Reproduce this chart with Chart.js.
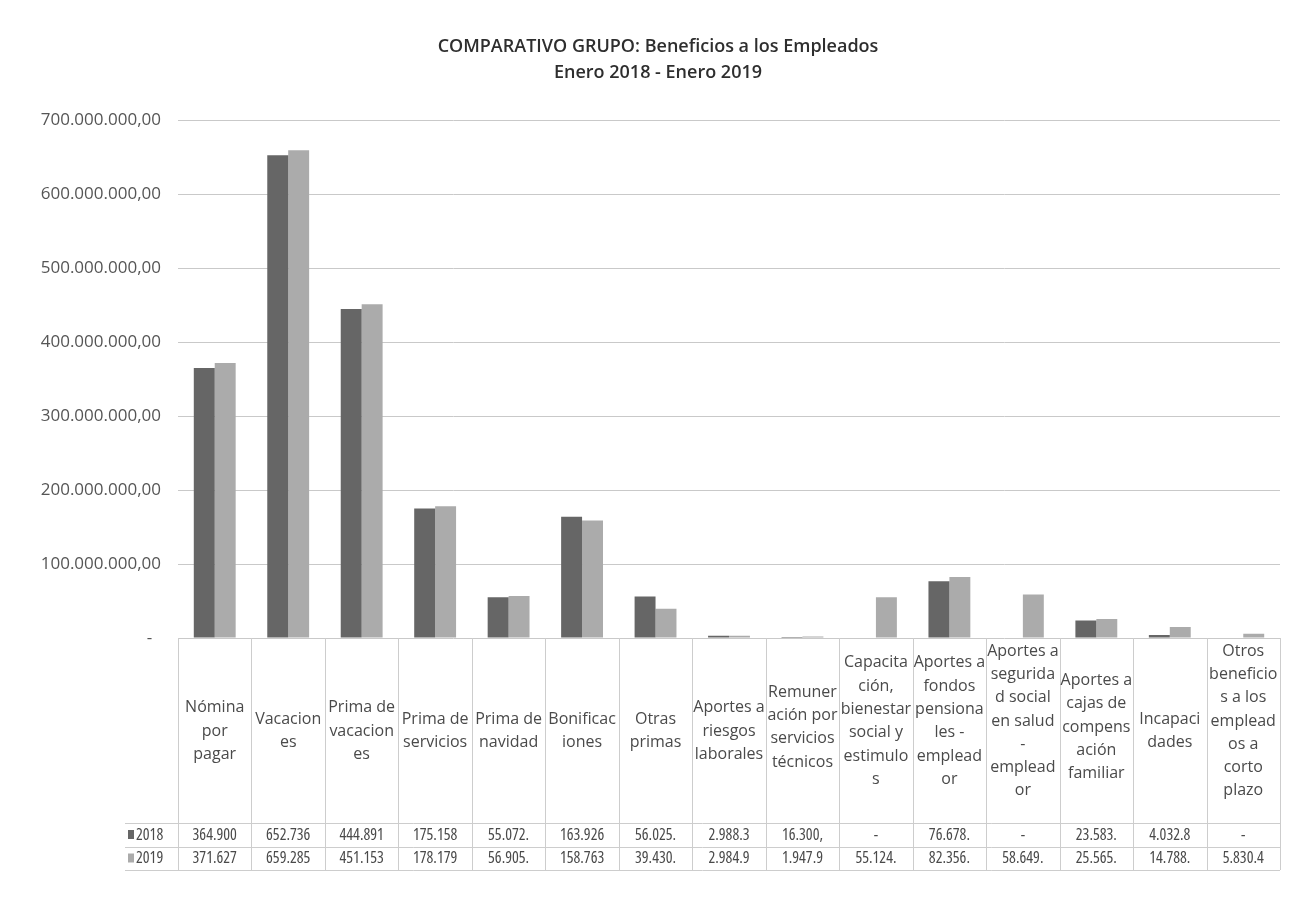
<!DOCTYPE html>
<html>
<head>
<meta charset="utf-8">
<title>Comparativo grupo</title>
<script src="https://cdn.jsdelivr.net/npm/chart.js@4.4.1/dist/chart.umd.min.js"></script>
<style>
  html, body { margin: 0; padding: 0; background: #ffffff; }
  #wrap { width: 1297px; height: 898px; }
</style>
</head>
<body>
<div id="wrap"><canvas id="barChart" width="1297" height="898"></canvas></div>
<script>
// Categorias (cortadas como en la tabla de Excel)
const categorias = [
    ["Nómina", "por", "pagar"],
    ["Vacacion", "es"],
    ["Prima de", "vacacion", "es"],
    ["Prima de", "servicios"],
    ["Prima de", "navidad"],
    ["Bonificac", "iones"],
    ["Otras", "primas"],
    ["Aportes a", "riesgos", "laborales"],
    ["Remuner", "ación por", "servicios", "técnicos"],
    ["Capacita", "ción,", "bienestar", "social y", "estimulo", "s"],
    ["Aportes a", "fondos", "pensiona", "les -", "emplead", "or"],
    ["Aportes a", "segurida", "d social", "en salud", "-", "emplead", "or"],
    ["Aportes a", "cajas de", "compens", "ación", "familiar"],
    ["Incapaci", "dades"],
    ["Otros", "beneficio", "s a los", "emplead", "os a", "corto", "plazo"]
];

// Valores en pesos
const valores2018 = [364900000, 652736000, 444891000, 175158000, 55072000, 163926000, 56025000, 2988300, 16300, 0, 76678000, 0, 23583000, 4032800, 0];
const valores2019 = [371627000, 659285000, 451153000, 178179000, 56905000, 158763000, 39430000, 2984900, 1947900, 55124000, 82356000, 58649000, 25565000, 14788000, 5830400];

// Texto de la tabla de datos (recortado como en el original)
const texto2018 = ["364.900", "652.736", "444.891", "175.158", "55.072.", "163.926", "56.025.", "2.988.3", "16.300,", "-", "76.678.", "-", "23.583.", "4.032.8", "-"];
const texto2019 = ["371.627", "659.285", "451.153", "178.179", "56.905.", "158.763", "39.430.", "2.984.9", "1.947.9", "55.124.", "82.356.", "58.649.", "25.565.", "14.788.", "5.830.4"];

const FUENTE = "'Open Sans', sans-serif";

function formatoPesos(v) {
    if (v === 0) return "-  ";
    return String(v).replace(/\B(?=(\d{3})+(?!\d))/g, ".") + ",00";
}

// Tabla de datos bajo el grafico
const tablaPlugin = {
    id: "tabla",
    afterDraw(chart) {
        const ctx = chart.ctx;
        const x = chart.scales.x;
        const top = chart.chartArea.bottom;
        const n = chart.data.labels.length;
        const paso = x.width / n;
        const filaA = top + 185;
        const filaB = filaA + 24;
        const fin = filaB + 23;

        ctx.save();
        ctx.strokeStyle = "#cdcdcd";
        ctx.lineWidth = 1;
        ctx.beginPath();
        for (let i = 0; i <= n; i++) {
            const px = Math.round(x.left + i * paso) + 0.5;
            ctx.moveTo(px, top);
            ctx.lineTo(px, fin);
        }
        [filaA, filaB, fin].forEach(yy => {
            ctx.moveTo(125, Math.round(yy) + 0.5);
            ctx.lineTo(x.right, Math.round(yy) + 0.5);
        });
        ctx.stroke();

        // encabezados
        ctx.fillStyle = "#4a4a4a";
        ctx.font = "16px " + FUENTE;
        ctx.textAlign = "center";
        ctx.textBaseline = "middle";
        chart.data.labels.forEach((lineas, i) => {
            const cx = x.getPixelForValue(i);
            const k = lineas.length;
            const centro = top + (k > 5 ? 83 : (k > 3 ? 89 : 93));
            const y0 = centro - (k - 1) * 23.3 / 2;
            lineas.forEach((t, j) => ctx.fillText(t, cx, y0 + j * 23.3));
        });

        // filas de valores
        ctx.font = "15px " + FUENTE;
        ctx.font = "semi-condensed 16px " + FUENTE;
        chart.data.datasets.forEach((ds, d) => {
            const yy = filaA + 12 + d * 23.5;
            ctx.fillStyle = ds.backgroundColor;
            ctx.fillRect(128, yy - 5, 6, 9);
            ctx.fillStyle = "#4a4a4a";
            ctx.textAlign = "left";
            ctx.fillText(ds.label, 136, yy);
            ctx.textAlign = "center";
            ds.tabla.forEach((t, i) => ctx.fillText(t, x.getPixelForValue(i), yy));
        });
        ctx.restore();
    }
};

const ctx = document.getElementById("barChart");
new Chart(ctx, {
    type: "bar",
    data: {
        labels: categorias,
        datasets: [
            {
                label: "2018",
                data: valores2018,
                tabla: texto2018,
                backgroundColor: "#666666",
                categoryPercentage: 0.57,
                barPercentage: 1.0
            },
            {
                label: "2019",
                data: valores2019,
                tabla: texto2019,
                backgroundColor: "#ababab",
                categoryPercentage: 0.57,
                barPercentage: 1.0
            }
        ]
    },
    options: {
        responsive: false,
        animation: false,
        layout: {
            padding: { left: 36, right: 17, top: 0, bottom: 260 }
        },
        plugins: {
            legend: { display: false },
            tooltip: { enabled: false },
            title: {
                display: true,
                text: ["COMPARATIVO GRUPO: Beneficios a los Empleados", "Enero 2018 - Enero 2019"],
                color: "#2e2e2e",
                font: { family: FUENTE, size: 18, weight: "600", lineHeight: 1.45 },
                padding: { top: 34, bottom: 34 }
            }
        },
        scales: {
            x: {
                display: false
            },
            y: {
                min: 0,
                max: 700000000,
                afterFit(scale) { scale.width = 142; },
                border: { display: false },
                grid: { color: "#c9c9c9", drawTicks: false },
                ticks: {
                    stepSize: 100000000,
                    padding: 17,
                    color: "#555555",
                    font: { family: FUENTE, size: 17 },
                    callback: v => formatoPesos(v)
                }
            }
        }
    },
    plugins: [tablaPlugin]
});
</script>
</body>
</html>
